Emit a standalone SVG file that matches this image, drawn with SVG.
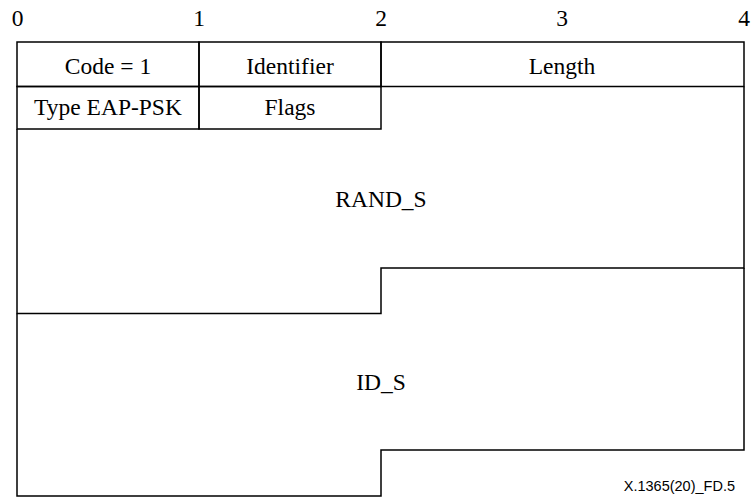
<svg xmlns="http://www.w3.org/2000/svg" width="751" height="497" viewBox="0 0 751 497">
<style>
.ln{fill:none;stroke:#000;stroke-width:1.5}
.t{font-family:"Liberation Serif","Times New Roman",serif;font-size:23.5px;fill:#000;text-anchor:middle}
.f{font-family:"Liberation Sans",Arial,sans-serif;font-size:14.5px;fill:#000;text-anchor:end}
</style>
<rect width="751" height="497" fill="#fff"/>
<g id="scale">
<text class="t" x="17.5" y="26">0</text>
<text class="t" x="199" y="26">1</text>
<text class="t" x="381" y="26">2</text>
<text class="t" x="562" y="26">3</text>
<text class="t" x="744" y="26">4</text>
</g>
<g id="code"><rect class="ln" x="17" y="42" width="182" height="44.5"/><text class="t" x="108" y="74">Code = 1</text></g>
<g id="identifier"><rect class="ln" x="199" y="42" width="182" height="44.5"/><text class="t" x="290" y="74">Identifier</text></g>
<g id="length"><rect class="ln" x="381" y="42" width="363" height="44.5"/><text class="t" x="562" y="74">Length</text></g>
<g id="type"><rect class="ln" x="17" y="86.5" width="182" height="42.5"/><text class="t" x="108" y="115">Type EAP-PSK</text></g>
<g id="flags"><rect class="ln" x="199" y="86.5" width="182" height="42.5"/><text class="t" x="290" y="115">Flags</text></g>
<g id="rand_s"><path class="ln" d="M17,129 V313.5 H381 V268 H744 V86.5"/><text class="t" x="381" y="207">RAND_S</text></g>
<g id="id_s"><path class="ln" d="M17,313.5 V496 H381 V450 H744 V268"/><text class="t" x="381" y="390">ID_S</text></g>
<text class="f" x="735" y="491">X.1365(20)_FD.5</text>
</svg>
